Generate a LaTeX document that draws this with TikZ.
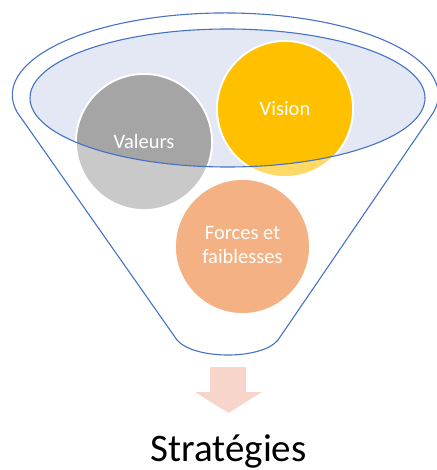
\documentclass[tikz,border=0pt]{standalone}
\usepackage{fontspec}
\setmainfont{Carlito}
\definecolor{funblue}{HTML}{4472C4}
\definecolor{bowl}{HTML}{E3E8F4}
\definecolor{grayD}{HTML}{A5A5A5}
\definecolor{grayL}{HTML}{C9C9C9}
\definecolor{yelD}{HTML}{FFC000}
\definecolor{yelL}{HTML}{FFD966}
\definecolor{orng}{HTML}{F4B183}
\definecolor{arrowc}{HTML}{F8D5CA}
\tikzset{
  outline/.style={draw=funblue, line width=1.1pt},
  ball/.style={circle, minimum size=136pt, inner sep=0pt, draw=white, line width=1.8pt},
  balltext/.style={text=white, font=\fontsize{20.5}{24}\selectfont, align=center, inner sep=0pt}
}
\begin{document}
\begin{tikzpicture}[x=1pt,y=-1pt]
\useasboundingbox (0,0) rectangle (436,470);
% outer funnel
\draw[outline, line join=round] (17,112) arc[start angle=168, end angle=372, x radius=213, y radius=82]
  -- (278,340) .. controls (262,360) and (194,360) .. (177,340) -- cycle;
% inner ellipse fill
\fill[bowl] (227.5,98) ellipse[x radius=197.5, y radius=69];
% circles (light parts)
\node[ball, fill=grayL] (val) at (144,142) {};
\node[ball, fill=yelL] (vis) at (285,109) {};
\node[ball, fill=orng, minimum size=135pt] (ff) at (242.5,246.5) {};
% dark parts inside bowl
\begin{scope}
  \clip (227.5,98) ellipse[x radius=197.5, y radius=69];
  \filldraw[fill=grayD, draw=white, line width=1.8pt] (val.center) circle[radius=68];
  \filldraw[fill=yelD, draw=white, line width=1.8pt] (vis.center) circle[radius=68];
\end{scope}
% inner ellipse outline
\draw[outline] (227.5,98) ellipse[x radius=197.5, y radius=69];
% labels
\node[balltext, anchor=base] (tval) at (144,149) {Valeurs};
\node[balltext, anchor=base] (tvis) at (285,116) {Vision};
\node[balltext] (tff) at (242.5,245) {Forces et\\faiblesses};
% arrow
\fill[arrowc] (210,367) -- (246,367) -- (246,392) -- (262,392) -- (228.5,413) -- (195,392) -- (210,392) -- cycle;
% result
\node[font=\fontsize{39}{44}\selectfont, anchor=base, inner sep=0pt] (strat) at (228.5,461) {Stratégies};
\end{tikzpicture}
\end{document}
